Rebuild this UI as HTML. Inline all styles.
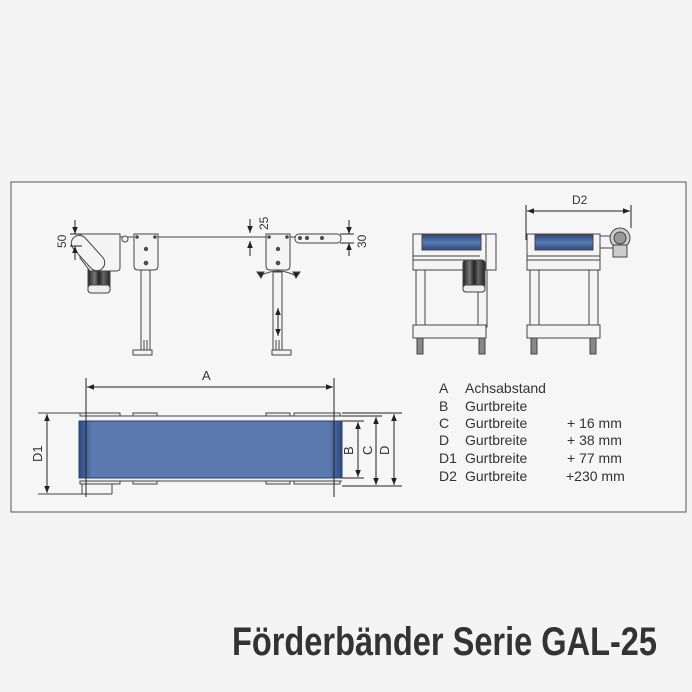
<!DOCTYPE html>
<html><head><meta charset="utf-8"><style>
html,body{margin:0;padding:0;background:#f4f4f4;}
svg{display:block;}
.t{font-family:"Liberation Sans",sans-serif;fill:#333;}
</style></head><body>
<svg width="692" height="692" viewBox="0 0 692 692" xmlns="http://www.w3.org/2000/svg">
<defs>
<linearGradient id="bl" x1="0" x2="1" y1="0" y2="0">
<stop offset="0" stop-color="#2e4a80"/><stop offset="0.05" stop-color="#5a7ab0"/><stop offset="0.95" stop-color="#5a7ab0"/><stop offset="1" stop-color="#2e4a80"/></linearGradient>
<linearGradient id="rl" x1="0" x2="0" y1="0" y2="1">
<stop offset="0" stop-color="#2e4a80"/><stop offset="0.5" stop-color="#5a7ab0"/><stop offset="1" stop-color="#2e4a80"/></linearGradient>
<linearGradient id="mt" x1="0" x2="1">
<stop offset="0" stop-color="#222"/><stop offset="0.3" stop-color="#777"/><stop offset="0.5" stop-color="#222"/><stop offset="0.7" stop-color="#666"/><stop offset="1" stop-color="#222"/></linearGradient>
<marker id="ar" viewBox="0 0 10 10" refX="10" refY="5" markerWidth="7" markerHeight="7" orient="auto-start-reverse"><path d="M0,1 L10,5 L0,9 Z" fill="#222"/></marker>
</defs>
<rect x="11" y="182" width="675" height="330" fill="#f6f6f6" stroke="#555" stroke-width="1"/>

<g stroke="#444" stroke-width="1" fill="#f4f4f4">
<line x1="120" y1="237" x2="296" y2="237"/>
<rect x="88" y="262" width="22" height="30" fill="url(#mt)" rx="2"/>
<rect x="88" y="285" width="22" height="8" fill="#eee" rx="3"/>
<path d="M80,234 L120,234 L120,268 Q120,271 116,271 L90,271 L80,258 Z"/>
<rect x="80" y="232" width="16" height="42" rx="8" transform="rotate(-42 88 253)"/>
<circle cx="125" cy="239" r="3"/>
<path d="M134,234 L158,234 L158,266 Q158,270 154,270 L138,270 Q134,270 134,266 Z"/>
<circle cx="146" cy="249" r="1.6" fill="#555"/><circle cx="146" cy="263" r="1.8" fill="#555"/>
<circle cx="137" cy="237" r="1.3" fill="#555"/><circle cx="155" cy="237" r="1.3" fill="#555"/>
<rect x="141" y="270" width="9" height="80"/>
<line x1="144" y1="340" x2="144" y2="350"/><line x1="147" y1="340" x2="147" y2="350"/>
<rect x="133" y="350" width="19" height="5"/>
<path d="M266,234 L290,234 L290,266 Q290,270 286,270 L270,270 Q266,270 266,266 Z"/>
<circle cx="278" cy="249" r="1.6" fill="#555"/><circle cx="278" cy="263" r="1.8" fill="#555"/>
<circle cx="269" cy="237" r="1.3" fill="#555"/><circle cx="287" cy="237" r="1.3" fill="#555"/>
<path d="M260,276 Q278,266 296,276" fill="none"/>
<path d="M257,272 L264,272 L261,278 Z" fill="#222"/><path d="M293,272 L300,272 L296,278 Z" fill="#222"/>
<rect x="273" y="272" width="9" height="78"/>
<line x1="278" y1="308" x2="278" y2="336" marker-start="url(#ar)" marker-end="url(#ar)" stroke="#222"/>
<line x1="276" y1="340" x2="276" y2="350"/><line x1="279" y1="340" x2="279" y2="350"/>
<rect x="272" y="350" width="19" height="5"/>
<rect x="295" y="234" width="46" height="9" rx="4"/>
<circle cx="300" cy="238" r="1.5" fill="#555"/><circle cx="307" cy="238" r="1.5" fill="#555"/><circle cx="322" cy="238" r="1.5" fill="#555"/>
</g>
<g stroke="#222" stroke-width="1" fill="none">
<line x1="70" y1="234" x2="82" y2="234"/><line x1="70" y1="246" x2="82" y2="246"/>
<line x1="75" y1="220" x2="75" y2="234" marker-end="url(#ar)"/><line x1="75" y1="260" x2="75" y2="246" marker-end="url(#ar)"/>
<line x1="250" y1="219" x2="250" y2="233" marker-end="url(#ar)"/><line x1="250" y1="256" x2="250" y2="241" marker-end="url(#ar)"/>
<line x1="340" y1="234" x2="354" y2="234"/><line x1="340" y1="243" x2="354" y2="243"/>
<line x1="349" y1="220" x2="349" y2="234" marker-end="url(#ar)"/><line x1="349" y1="256" x2="349" y2="243" marker-end="url(#ar)"/>
</g>
<text class="t" font-size="12" transform="translate(66,248) rotate(-90)">50</text>
<text class="t" font-size="12" transform="translate(268,230) rotate(-90)">25</text>
<text class="t" font-size="12" transform="translate(366,248) rotate(-90)">30</text>

<g stroke="#444" stroke-width="1" fill="#f4f4f4">
<rect x="413" y="234" width="83" height="36"/>
<rect x="422" y="235" width="59" height="15" fill="url(#rl)"/>
<line x1="413" y1="256" x2="480" y2="256"/><line x1="413" y1="260" x2="480" y2="260"/>
<rect x="486" y="234" width="10" height="36"/>
<rect x="416" y="270" width="9" height="57"/><rect x="478" y="270" width="9" height="57"/>
<rect x="413" y="325" width="73" height="13"/>
<rect x="417" y="338" width="6" height="16" fill="#888"/><rect x="479" y="338" width="6" height="16" fill="#888"/>
<rect x="463" y="260" width="22" height="32" rx="3" fill="url(#mt)"/>
<rect x="463" y="285" width="22" height="7" rx="3" fill="#eee"/>
<rect x="527" y="234" width="73" height="36"/>
<rect x="535" y="235" width="58" height="15" fill="url(#rl)"/>
<line x1="527" y1="256" x2="600" y2="256"/><line x1="527" y1="260" x2="600" y2="260"/>
<rect x="530" y="270" width="9" height="57"/><rect x="589" y="270" width="9" height="57"/>
<rect x="527" y="325" width="73" height="13"/>
<rect x="531" y="338" width="6" height="16" fill="#888"/><rect x="590" y="338" width="6" height="16" fill="#888"/>
<rect x="600" y="236" width="16" height="12"/>
<circle cx="620" cy="238" r="10" fill="#ccc"/><circle cx="620" cy="238" r="6" fill="#999"/>
<rect x="613" y="245" width="14" height="12" fill="#ccc"/>
</g>
<g stroke="#222" stroke-width="1" fill="none">
<line x1="526" y1="205" x2="526" y2="240"/><line x1="631" y1="205" x2="631" y2="228"/>
<line x1="527" y1="211" x2="630" y2="211" marker-start="url(#ar)" marker-end="url(#ar)"/>
</g>
<text class="t" font-size="12" x="572" y="204">D2</text>

<g stroke="#444" stroke-width="1" fill="#eee">
<line x1="38" y1="413" x2="80" y2="413"/><line x1="38" y1="494" x2="112" y2="494"/>
<path d="M80,413 L120,413 L120,416 L80,416 Z"/><rect x="133" y="413" width="24" height="3"/>
<rect x="266" y="413" width="24" height="3"/><path d="M294,413 L340,413 L340,416 L294,416 Z"/>
<rect x="80" y="481" width="40" height="3"/><rect x="133" y="481" width="24" height="3"/>
<rect x="266" y="481" width="24" height="3"/><rect x="294" y="481" width="46" height="3"/>
<line x1="80" y1="416" x2="342" y2="416"/><line x1="80" y1="481" x2="342" y2="481"/>
<line x1="82" y1="484" x2="82" y2="494" /><line x1="112" y1="484" x2="112" y2="494"/>
</g>
<rect x="79" y="421" width="263" height="57" fill="url(#bl)" stroke="#2a3f6a"/>
<g stroke="#222" stroke-width="1" fill="none">
<line x1="86" y1="378" x2="86" y2="497"/><line x1="334" y1="378" x2="334" y2="497"/>
<line x1="87" y1="387" x2="333" y2="387" marker-start="url(#ar)" marker-end="url(#ar)"/>
<line x1="47" y1="414" x2="47" y2="493" marker-start="url(#ar)" marker-end="url(#ar)"/>
<line x1="342" y1="413" x2="402" y2="413"/><line x1="342" y1="416" x2="382" y2="416"/>
<line x1="342" y1="421" x2="364" y2="421"/><line x1="342" y1="478" x2="364" y2="478"/>
<line x1="342" y1="486" x2="402" y2="486"/>
<line x1="358" y1="422" x2="358" y2="477" marker-start="url(#ar)" marker-end="url(#ar)"/>
<line x1="376" y1="417" x2="376" y2="485" marker-start="url(#ar)" marker-end="url(#ar)"/>
<line x1="394" y1="414" x2="394" y2="485" marker-start="url(#ar)" marker-end="url(#ar)"/>
</g>
<text class="t" font-size="13" x="202" y="380">A</text>
<text class="t" font-size="13" transform="translate(42,462) rotate(-90)">D1</text>
<text class="t" font-size="13" transform="translate(353,455) rotate(-90)">B</text>
<text class="t" font-size="13" transform="translate(372,455) rotate(-90)">C</text>
<text class="t" font-size="13" transform="translate(389,455) rotate(-90)">D</text>

<g class="t" font-size="14">
<text x="439" y="393">A</text><text x="465" y="393">Achsabstand</text>
<text x="439" y="411">B</text><text x="465" y="411">Gurtbreite</text>
<text x="439" y="428">C</text><text x="465" y="428">Gurtbreite</text><text x="567" y="428">+  16 mm</text>
<text x="439" y="445">D</text><text x="465" y="445">Gurtbreite</text><text x="567" y="445">+  38 mm</text>
<text x="439" y="463">D1</text><text x="465" y="463">Gurtbreite</text><text x="567" y="463">+  77 mm</text>
<text x="439" y="481">D2</text><text x="465" y="481">Gurtbreite</text><text x="566" y="481">+230 mm</text>
</g>

<text x="232" y="655" font-family="'Liberation Sans Narrow','Liberation Sans',sans-serif" font-weight="bold" font-size="40" fill="#333" textLength="425" lengthAdjust="spacingAndGlyphs">Förderbänder Serie GAL-25</text>
</svg>
</body></html>
